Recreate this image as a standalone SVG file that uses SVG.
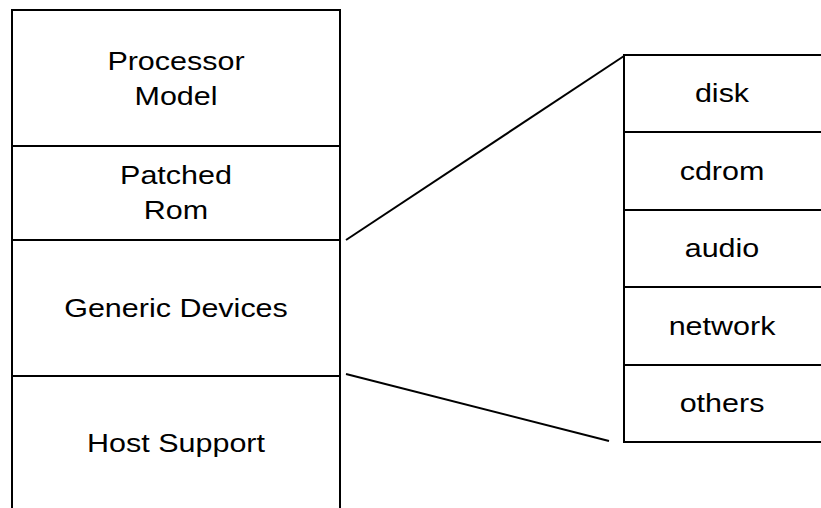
<svg xmlns="http://www.w3.org/2000/svg" width="821" height="508" viewBox="0 0 821 508">
<style>
.box{fill:none;stroke:#000;stroke-width:2}
.ln{stroke:#000;stroke-width:2;fill:none}
.t{font-family:"Liberation Sans",Arial,Helvetica,sans-serif;font-size:25px;fill:#000;text-anchor:middle}
</style>
<rect width="821" height="508" fill="#fff"/>
<g id="stack">
<g id="processor-model">
<rect class="box" x="12" y="10" width="328" height="136"/>
<text class="t" transform="translate(176 70) scale(1.22 1)">Processor</text>
<text class="t" transform="translate(176 105) scale(1.22 1)">Model</text>
</g>
<g id="patched-rom">
<rect class="box" x="12" y="146" width="328" height="94"/>
<text class="t" transform="translate(176 184) scale(1.22 1)">Patched</text>
<text class="t" transform="translate(176 219) scale(1.22 1)">Rom</text>
</g>
<g id="generic-devices">
<rect class="box" x="12" y="240" width="328" height="136"/>
<text class="t" transform="translate(176 317) scale(1.22 1)">Generic Devices</text>
</g>
<g id="host-support">
<rect class="box" x="12" y="376" width="328" height="150"/>
<text class="t" transform="translate(176 452) scale(1.22 1)">Host Support</text>
</g>
</g>
<g id="devices">
<g id="disk">
<rect class="box" x="624" y="55" width="200" height="77"/>
<text class="t" transform="translate(722 102) scale(1.22 1)">disk</text>
</g>
<g id="cdrom">
<rect class="box" x="624" y="132" width="200" height="78"/>
<text class="t" transform="translate(722 180) scale(1.22 1)">cdrom</text>
</g>
<g id="audio">
<rect class="box" x="624" y="210" width="200" height="77"/>
<text class="t" transform="translate(722 257) scale(1.22 1)">audio</text>
</g>
<g id="network">
<rect class="box" x="624" y="287" width="200" height="78"/>
<text class="t" transform="translate(722 335) scale(1.22 1)">network</text>
</g>
<g id="others">
<rect class="box" x="624" y="365" width="200" height="77"/>
<text class="t" transform="translate(722 412) scale(1.22 1)">others</text>
</g>
</g>
<g id="connectors">
<line class="ln" x1="346" y1="240" x2="624" y2="56"/>
<line class="ln" x1="346" y1="374" x2="609" y2="441"/>
</g>
</svg>
